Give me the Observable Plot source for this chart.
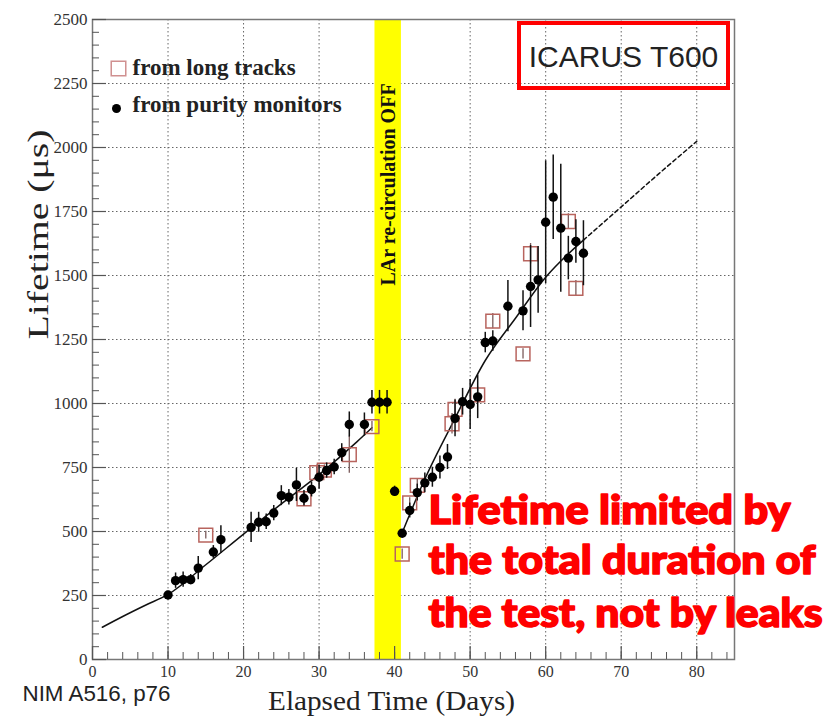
<!DOCTYPE html>
<html>
<head>
<meta charset="utf-8">
<script src="https://cdn.jsdelivr.net/npm/d3@7"></script>
<script src="https://cdn.jsdelivr.net/npm/@observablehq/plot@0.6"></script>
<style>
  html, body { margin: 0; padding: 0; background: white; }
  #wrap { position: relative; width: 827px; height: 716px; overflow: hidden; }
  #box { position: absolute; left: 517px; top: 21px; width: 213px; height: 69px; box-sizing: border-box;
         border: 4px solid #ff0000; font-family: "Liberation Sans", Arial, sans-serif; font-size: 30px;
         color: #222; display: flex; align-items: center; justify-content: center; padding-top: 2px; }
</style>
</head>
<body>
<div id="wrap"><div id="box">ICARUS T600</div></div>
<script>
// ---- data ----
const purityDays = [10,11,12,13,14,16,17,21,22,23,24,25,26,27,28,29,30,31,32,33,34,36,37,38,39,40,41,42,43,44,45,46,47,48,49,50,51,52,53,55,57,58,59,60,61,62,63,64,65];
const purityLife = [252,308,312,312,357,420,468,516,536,538,572,640,634,682,630,664,712,738,752,808,918,918,1005,1005,1005,657,493,582,652,690,712,750,791,942,1007,996,1026,1238,1244,1380,1362,1457,1483,1708,1806,1685,1568,1633,1587];
const purityErr  = [15,30,30,20,45,25,54,59,39,30,30,39,30,65,30,29,47,30,30,35,49,45,46,46,46,20,15,29,33,39,39,45,49,72,52,98,85,40,40,100,78,160,130,240,165,250,85,85,127];

const trackDays = [15,28,29.7,30.7,34,37,41,42,43,47.6,48,51,53,57,58,63,64];
const trackLife = [486,628,730,740,800,910,412,612,680,921,977,1034,1322,1194,1585,1711,1450];
const trackErr  = [15,25,30,20,72,20,20,20,25,40,40,30,30,20,40,30,30];

const fit1Days = [1.3,4,7,10,15,20,25,30,35,37];
const fit1Life = [126,168,212,254,370,490,608,722,850,905];
const fit2Days = [41,44,48,52,56,60,65];
const fit2Life = [495,705,942,1168,1333,1493,1638];
const fit2ExtDays = [65,70,75,80];
const fit2ExtLife = [1638,1768,1898,2024];

const offBand = [37.4, 40.9];
const xTicks = [0,10,20,30,40,50,60,70,80];
const yTicks = [0,250,500,750,1000,1250,1500,1750,2000,2250,2500];
const xMinor = d3.range(0, 86, 2);
const yMinor = d3.range(0, 2501, 50);

const legendLabels = ["from long tracks", "from purity monitors"];
const bandLabel = "LAr re-circulation OFF";
const noteLines = ["Lifetime limited by", "the total duration of", "the test, not by leaks"];
const xLabel = "Elapsed Time (Days)";
const yLabel = "Lifetime (μs)";
const source = "NIM A516, p76";

// ---- tables ----
const purity = purityDays.map((d, i) => ({day: d, life: purityLife[i], err: purityErr[i]}));
const tracks = trackDays.map((d, i) => ({day: d, life: trackLife[i], err: trackErr[i]}));
const fit1 = fit1Days.map((d, i) => ({day: d, life: fit1Life[i]}));
const fit2 = fit2Days.map((d, i) => ({day: d, life: fit2Life[i]}));
const fit2x = fit2ExtDays.map((d, i) => ({day: d, life: fit2ExtLife[i]}));

const W = 827, H = 716, mL = 92, mR = 93, mT = 19, mB = 57;
const innerW = W - mL - mR, innerH = H - mT - mB;
const sqColor = "#b8645e";
const serif = "'Liberation Serif', 'Times New Roman', serif";
const redFont = "Lato, 'Open Sans', sans-serif";

const plot = Plot.plot({
  width: W, height: H,
  marginLeft: mL, marginRight: mR, marginTop: mT, marginBottom: mB,
  x: {domain: [0, 85]},
  y: {domain: [0, 2500]},
  style: {fontFamily: serif, background: "white", overflow: "visible"},
  marks: [
    Plot.gridX(xTicks.slice(1), {stroke: "#666", strokeOpacity: 1, strokeWidth: 1, strokeDasharray: "1.5,2.5"}),
    Plot.gridY(yTicks.slice(1, -1), {stroke: "#666", strokeOpacity: 1, strokeWidth: 1, strokeDasharray: "1.5,2.5"}),
    Plot.rect([offBand], {x1: d => d[0], x2: d => d[1], y1: 0, y2: 2500, fill: "#ffff00"}),
    Plot.frame({stroke: "#777", strokeWidth: 1.5}),
    Plot.tickX(xTicks, {x: d => d, stroke: "#555", strokeWidth: 1.2, insetTop: innerH - 13}),
    Plot.tickX(xMinor, {x: d => d, stroke: "#555", strokeWidth: 1, insetTop: innerH - 7}),
    Plot.tickY(yTicks, {y: d => d, stroke: "#555", strokeWidth: 1.2, insetRight: innerW - 14}),
    Plot.tickY(yMinor, {y: d => d, stroke: "#555", strokeWidth: 1, insetRight: innerW - 7}),
    Plot.axisX(xTicks, {tickSize: 0, tickPadding: 6, fontSize: 16, fill: "#333", label: null}),
    Plot.axisY(yTicks, {tickSize: 0, tickPadding: 5, fontSize: 17, fill: "#333", label: null, tickFormat: d => String(d)}),
    // fits
    Plot.line(fit1, {x: "day", y: "life", curve: "monotone-x", stroke: "#111", strokeWidth: 1.5}),
    Plot.line(fit2, {x: "day", y: "life", curve: "monotone-x", stroke: "#111", strokeWidth: 1.5}),
    Plot.line(fit2x, {x: "day", y: "life", curve: "monotone-x", stroke: "#111", strokeWidth: 1.5, strokeDasharray: "4,3"}),
    // long tracks
    Plot.ruleX(tracks, {x: "day", y1: d => d.life - d.err, y2: d => d.life + d.err, stroke: "#7a5a5a", strokeWidth: 1.3}),
    Plot.dot(tracks, {x: "day", y: "life", symbol: "square", r: 7.8, stroke: sqColor, strokeWidth: 1.5, fill: "none"}),
    // purity monitors
    Plot.ruleX(purity, {x: "day", y1: d => d.life - d.err, y2: d => d.life + d.err, stroke: "#111", strokeWidth: 1.5}),
    Plot.dot(purity, {x: "day", y: "life", r: 4.7, fill: "#000", stroke: "none"}),
    // legend
    Plot.dot([0], {frameAnchor: "top-left", dx: 26, dy: 49, symbol: "square", r: 8.2, stroke: "#d09090", strokeWidth: 1.5, fill: "none"}),
    Plot.dot([0], {frameAnchor: "top-left", dx: 24, dy: 89, r: 4.5, fill: "#000"}),
    Plot.text([legendLabels[0]], {frameAnchor: "top-left", lineAnchor: "middle", dx: 40, dy: 48, textAnchor: "start", fontSize: 23, fontWeight: "bold", fill: "#222"}),
    Plot.text([legendLabels[1]], {frameAnchor: "top-left", lineAnchor: "middle", dx: 40, dy: 85, textAnchor: "start", fontSize: 23, fontWeight: "bold", fill: "#222"}),
    // band label
    Plot.text([bandLabel], {x: () => (offBand[0] + offBand[1]) / 2, frameAnchor: "top", lineAnchor: "middle", dy: 165, rotate: -90, fontSize: 20, fontWeight: "bold", fill: "#111"}),
    // axis labels
    Plot.text([xLabel], {frameAnchor: "bottom", lineAnchor: "middle", dx: -22, dy: 42, fontSize: 27, fill: "#222"}),
    Plot.text([yLabel], {frameAnchor: "left", lineAnchor: "middle", dx: -54, dy: 0, rotate: -90, fontSize: 30, fill: "#222"}),
    Plot.text([source], {frameAnchor: "bottom-left", lineAnchor: "middle", dx: -70, dy: 34, textAnchor: "start", fontSize: 22, fill: "#222", fontFamily: "'Liberation Sans', Arial, sans-serif"}),
    // red note
    ...noteLines.map((t, i) => Plot.text([t], {frameAnchor: "top-left", lineAnchor: "middle", dx: 336, dy: [492, 542, 595][i], textAnchor: "start", fontSize: 39, fontWeight: 900, fill: "#ff0000", stroke: "#ff0000", strokeWidth: 1.6, fontFamily: redFont}))
  ]
});

document.getElementById("wrap").prepend(plot);

// stretch some texts to the widths seen in the reference
const widths = new Map([[noteLines[0], 362], [noteLines[1], 387], [noteLines[2], 394], [yLabel, 210], [source, 148], [xLabel, 247]]);
d3.select(plot).selectAll("text").each(function () {
  const w = widths.get(this.textContent);
  if (w) { this.setAttribute("textLength", w); this.setAttribute("lengthAdjust", "spacingAndGlyphs"); }
});
</script>
</body>
</html>
